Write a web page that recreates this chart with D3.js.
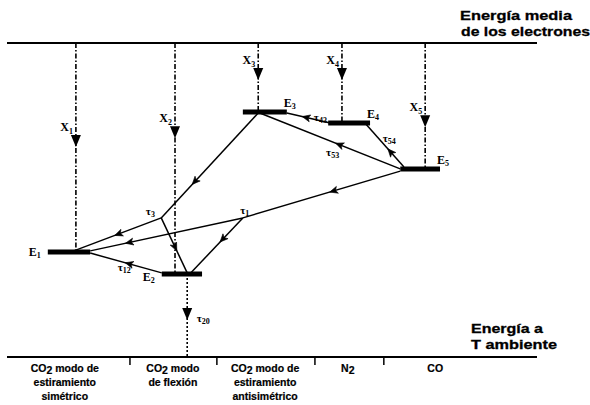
<!DOCTYPE html>
<html>
<head>
<meta charset="utf-8">
<script src="https://cdn.jsdelivr.net/npm/d3@7"></script>
<style>
  html, body { margin: 0; padding: 0; background: #fff; }
  svg { display: block; }
  .sans { font-family: "Liberation Sans", Arial, sans-serif; font-weight: bold; }
  .serif { font-family: "Liberation Serif", "Times New Roman", serif; font-weight: bold; }
</style>
</head>
<body>
<svg id="chart" width="590" height="405"></svg>
<script>
// ---- Energy levels (energy: 0 = ambient temperature, 1 = mean electron energy) ----
const levelNames  = ["E1", "E2", "E3", "E4", "E5"];
const levelEnergy = [0.334, 0.264, 0.780, 0.745, 0.599];
const levelStart  = [7.7, 29.2, 44.5, 60.6, 74.2];   // horizontal extent, diagram units (0–100)
const levelEnd    = [15.7, 36.8, 52.8, 68.5, 81.7];
const levelLabelSide = ["left", "left", "above", "above", "above"];

// ---- Electron excitation channels X1..X5 (mean electron energy -> level) ----
const pumpNames  = ["X1", "X2", "X3", "X4", "X5"];
const pumpX      = [13.0, 31.7, 47.4, 63.2, 78.9];
const pumpTarget = [0, 1, 2, 3, 4];
const pumpArrowE = [0.669, 0.697, 0.882, 0.882, 0.732];

// ---- Decay of E2 down to ambient energy ----
const decayX = 34.0;
const decayArrowE = 0.118;

// ---- Relaxation paths between levels (diagram units, energy) ----
const relaxFrom = [[47.4, 0.777], [29.1, 0.443], [29.1, 0.443], [74.2, 0.592], [44.5, 0.443], [44.5, 0.443], [74.2, 0.599], [61.0, 0.745], [74.9, 0.605], [29.2, 0.268]];
const relaxTo   = [[29.1, 0.443], [12.6, 0.338], [34.0, 0.268], [44.5, 0.443], [15.7, 0.338], [34.7, 0.268], [47.7, 0.777], [52.8, 0.777], [67.7, 0.742], [15.7, 0.331]];
const relaxArrowAt = [0.66, 0.5, 0.55, 0.43, 0.75, 0.4, 0.44, 0.58, 0.37, 0.47];

// ---- Relaxation time labels ----
const tauNames = ["3", "1", "12", "53", "43", "54", "20"];
const tauX     = [26.2, 44.0, 20.9, 60.2, 57.9, 70.9, 35.8];
const tauE     = [0.452, 0.455, 0.274, 0.640, 0.752, 0.685, 0.111];

// ---- Species / vibrational modes along the ambient-energy axis ----
const categoryLines = [
  ["CO|2| modo de", "estiramiento", "simétrico"],
  ["CO|2| modo", "de flexión"],
  ["CO|2| modo de", "estiramiento", "antisimétrico"],
  ["N|2|"],
  ["CO"]
];
const categoryCenter = [10.9, 31.3, 48.7, 64.3, 80.8];
const categoryBounds = [23.2, 39.6, 58.1, 71.1];

const topTitle = ["Energía media", "de los electrones"];
const bottomTitle = ["Energía a", "T ambiente"];

// ---------------------------------------------------------------
const svg = d3.select("#chart");
const x = d3.scaleLinear().domain([0, 100]).range([7, 537]);
const y = d3.scaleLinear().domain([0, 1]).range([357, 43]);

// Energy reference lines
svg.append("line").attr("x1", x(0)).attr("x2", x(100)).attr("y1", y(1)).attr("y2", y(1))
  .attr("stroke", "#000").attr("stroke-width", 2);
svg.append("line").attr("x1", x(0)).attr("x2", x(100)).attr("y1", y(0)).attr("y2", y(0))
  .attr("stroke", "#000").attr("stroke-width", 2.2);

// Titles on the right
const tt = svg.append("text").attr("class", "sans").attr("font-size", 13).attr("fill", "#000")
  .attr("stroke", "#000").attr("stroke-width", 0.3);
tt.append("tspan").attr("x", 460).attr("y", 20).attr("textLength", 112).attr("lengthAdjust", "spacingAndGlyphs").text(topTitle[0]);
tt.append("tspan").attr("x", 461).attr("y", 36).attr("textLength", 129).attr("lengthAdjust", "spacingAndGlyphs").text(topTitle[1]);
const bt = svg.append("text").attr("class", "sans").attr("font-size", 13).attr("fill", "#000")
  .attr("stroke", "#000").attr("stroke-width", 0.3);
bt.append("tspan").attr("x", 471).attr("y", 333).attr("textLength", 72).attr("lengthAdjust", "spacingAndGlyphs").text(bottomTitle[0]);
bt.append("tspan").attr("x", 471).attr("y", 349).attr("textLength", 86).attr("lengthAdjust", "spacingAndGlyphs").text(bottomTitle[1]);

// Category dividers below the ambient line
svg.selectAll(".div").data(categoryBounds).join("line")
  .attr("x1", d => x(d)).attr("x2", d => x(d))
  .attr("y1", y(0)).attr("y2", y(0) + 8)
  .attr("stroke", "#000").attr("stroke-width", 1.5);

// Category labels (with subscript segments marked by |..|)
categoryLines.forEach((lines, i) => {
  const t = svg.append("text").attr("class", "sans").attr("font-size", 10.5)
    .attr("text-anchor", "middle").attr("fill", "#000")
    .attr("stroke", "#000").attr("stroke-width", 0.2);
  lines.forEach((ln, j) => {
    const parts = ln.split("|");
    const row = t.append("tspan").attr("x", x(categoryCenter[i])).attr("y", 372 + j * 14);
    parts.forEach((p, k) => {
      if (!p) return;
      const s = row.append("tspan").text(p);
      if (k % 2 === 1) { s.attr("dy", 2); }
      else if (k > 0) { s.attr("dy", -2); }
    });
  });
});

// Helper: downward filled triangle
function downTri(cx, tipY, w, h) {
  return `M${cx - w / 2},${tipY - h} L${cx + w / 2},${tipY - h} L${cx},${tipY} Z`;
}

// Excitation channels (dash-dot verticals with filled arrowheads)
pumpNames.forEach((name, i) => {
  const px = x(pumpX[i]);
  const yEnd = y(levelEnergy[pumpTarget[i]]);
  svg.append("line").attr("x1", px).attr("x2", px).attr("y1", y(1)).attr("y2", yEnd)
    .attr("stroke", "#000").attr("stroke-width", 1.6).attr("stroke-dasharray", "5,2,1.5,2");
  const tip = y(pumpArrowE[i]);
  svg.append("path").attr("d", downTri(px, tip, 10, 12)).attr("fill", "#000");
  const lbl = svg.append("text").attr("class", "serif").attr("font-size", 12)
    .attr("text-anchor", "end").attr("x", px - 3).attr("y", tip - 16).attr("fill", "#000");
  lbl.append("tspan").text(name[0]);
  lbl.append("tspan").attr("font-size", 8).attr("dy", 3).text(name.slice(1));
});

// Decay of E2 to ambient (dotted, arrow)
svg.append("line").attr("x1", x(decayX)).attr("x2", x(decayX))
  .attr("y1", y(levelEnergy[1])).attr("y2", y(0))
  .attr("stroke", "#000").attr("stroke-width", 1.6).attr("stroke-dasharray", "2,2");
svg.append("path").attr("d", downTri(x(decayX), y(decayArrowE), 10, 12)).attr("fill", "#000");

// Relaxation paths with small mid-line arrowheads
relaxFrom.forEach((f, i) => {
  const t = relaxTo[i];
  const x1 = x(f[0]), y1 = y(f[1]), x2 = x(t[0]), y2 = y(t[1]);
  svg.append("line").attr("x1", x1).attr("y1", y1).attr("x2", x2).attr("y2", y2)
    .attr("stroke", "#000").attr("stroke-width", 1.5);
  const a = relaxArrowAt[i];
  const mx = x1 + (x2 - x1) * a, my = y1 + (y2 - y1) * a;
  const ang = Math.atan2(y2 - y1, x2 - x1) * 180 / Math.PI;
  svg.append("path").attr("d", "M3,0 L-5,-3.5 L-3,0 L-5,3.5 Z")
    .attr("transform", `translate(${mx},${my}) rotate(${ang})`)
    .attr("fill", "#000").attr("stroke", "#000").attr("stroke-width", 0.6);
});

// Energy level bars
svg.selectAll(".lvl").data(levelNames).join("line")
  .attr("x1", (d, i) => x(levelStart[i])).attr("x2", (d, i) => x(levelEnd[i]))
  .attr("y1", (d, i) => y(levelEnergy[i])).attr("y2", (d, i) => y(levelEnergy[i]))
  .attr("stroke", "#000").attr("stroke-width", 5);

// Level labels
levelNames.forEach((name, i) => {
  const left = levelLabelSide[i] === "left";
  const lx = left ? x(levelStart[i]) - 7 : x(levelEnd[i]) - 3;
  const ly = left ? y(levelEnergy[i]) + (i === 1 ? 7 : 4) : y(levelEnergy[i]) - 5;
  const lbl = svg.append("text").attr("class", "serif").attr("font-size", 12)
    .attr("text-anchor", left ? "end" : "start").attr("x", lx).attr("y", ly).attr("fill", "#000");
  lbl.append("tspan").text(name[0]);
  lbl.append("tspan").attr("font-size", 8).attr("dy", 2).text(name.slice(1));
});

// Relaxation time labels
tauNames.forEach((sub, i) => {
  const lbl = svg.append("text").attr("class", "serif").attr("font-size", 11)
    .attr("x", x(tauX[i])).attr("y", y(tauE[i])).attr("fill", "#000");
  lbl.append("tspan").text("τ");
  lbl.append("tspan").attr("font-size", 8).attr("dy", 2).text(sub);
});
</script>
</body>
</html>
